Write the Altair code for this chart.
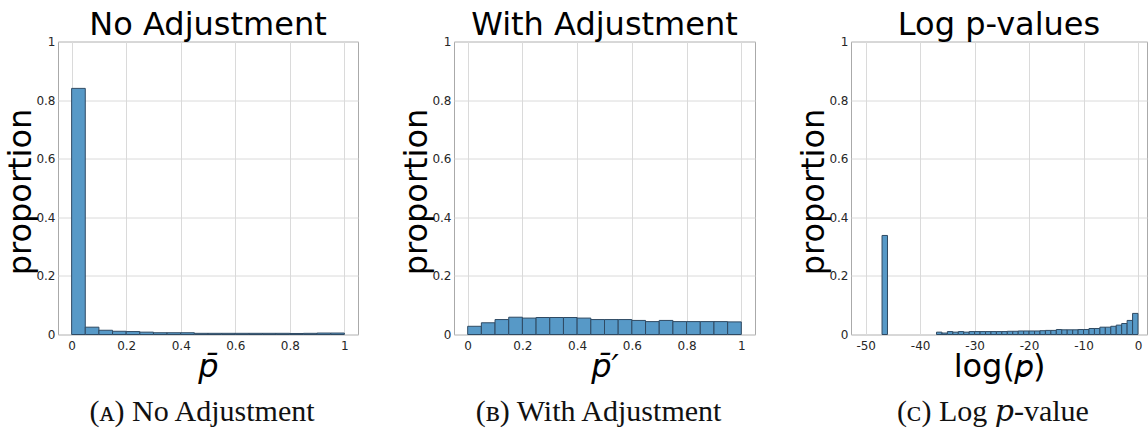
import altair as alt
import pandas as pd

# Histogram bin edges and proportions for each panel
raw_lo = [0.00, 0.05, 0.10, 0.15, 0.20, 0.25, 0.30, 0.35, 0.40, 0.45,
          0.50, 0.55, 0.60, 0.65, 0.70, 0.75, 0.80, 0.85, 0.90, 0.95]
raw_prop = [0.840, 0.025, 0.0145, 0.011, 0.010, 0.008, 0.006, 0.006, 0.006, 0.004,
            0.004, 0.004, 0.004, 0.004, 0.004, 0.004, 0.0035, 0.004, 0.005, 0.005]

adj_lo = raw_lo
adj_prop = [0.028, 0.040, 0.051, 0.059, 0.056, 0.058, 0.058, 0.058, 0.056, 0.051,
            0.051, 0.051, 0.048, 0.044, 0.048, 0.044, 0.044, 0.044, 0.044, 0.043]

log_lo = [-47, -37, -36, -35, -34, -33, -32, -31, -30, -29, -28, -27, -26, -25,
          -24, -23, -22, -21, -20, -19, -18, -17, -16, -15, -14, -13, -12, -11,
          -10, -9, -8, -7, -6, -5, -4, -3, -2, -1]
log_prop = [0.338, 0.008, 0.005, 0.010, 0.008, 0.010, 0.008, 0.010, 0.010, 0.010,
            0.010, 0.010, 0.010, 0.010, 0.011, 0.011, 0.012, 0.012, 0.012, 0.012,
            0.013, 0.014, 0.014, 0.017, 0.016, 0.016, 0.016, 0.017, 0.017, 0.0205,
            0.0205, 0.025, 0.025, 0.028, 0.032, 0.0375, 0.048, 0.072]

unit_ticks = [0, 0.2, 0.4, 0.6, 0.8, 1]
log_ticks = [-50, -40, -30, -20, -10, 0]
y_ticks = [0, 0.2, 0.4, 0.6, 0.8, 1]

FILL = "#5799c7"
EDGE = "#2f4a63"
GRID = "#dadada"
FRAME = "#aaaaaa"
SANS = "DejaVu Sans"
SERIF = "Liberation Serif, DejaVu Serif"
H = 293


def panel(lo, prop, width_bin, domain, ticks, xtitle, title, caption, w,
          title_style="normal"):
    df = pd.DataFrame({"lo": lo, "prop": prop})
    df["hi"] = df["lo"] + width_bin

    bars = alt.Chart(df).mark_rect(
        color=FILL, stroke=EDGE, strokeWidth=1, opacity=1
    ).encode(
        x=alt.X(
            "lo:Q",
            scale=alt.Scale(domain=domain, nice=False, zero=False),
            axis=alt.Axis(
                values=ticks, labelExpr="datum.value + ''", grid=True,
                gridColor=GRID, gridWidth=1, tickSize=0, domain=False,
                labelFont=SANS, labelFontSize=12, labelColor="#262626",
                labelPadding=6, labelFlush=False, labelOverlap=False,
                title=xtitle, titleFont=SANS, titleFontSize=32,
                titleFontWeight="normal", titleFontStyle=title_style,
                titleColor="black", titleX=w / 2, titleY=42,
                titleBaseline="alphabetic", titleAlign="center",
            ),
        ),
        x2="hi:Q",
        y=alt.Y(
            "prop:Q",
            scale=alt.Scale(domain=[0, 1], nice=False, padding=0),
            axis=alt.Axis(
                values=y_ticks, labelExpr="datum.value + ''", grid=True,
                gridColor=GRID, gridWidth=1, tickSize=0, domain=False,
                labelFont=SANS, labelFontSize=12, labelColor="#262626",
                labelPadding=3, labelFlush=False, labelOverlap=False,
                title="proportion", titleFont=SANS, titleFontSize=32,
                titleFontWeight="normal", titleColor="black",
                titleX=-28, titleY=150, titleAngle=270,
                titleBaseline="alphabetic", titleAlign="center",
            ),
        ),
        y2=alt.datum(0),
    )

    head = alt.Chart(pd.DataFrame({"t": [title]})).mark_text(
        font=SANS, fontSize=32, baseline="alphabetic", align="center",
        color="black"
    ).encode(text="t:N", x=alt.value(w / 2), y=alt.value(-7))

    foot = alt.Chart(pd.DataFrame({"t": [caption]})).mark_text(
        font=SERIF, fontSize=30, baseline="alphabetic", align="center",
        color="#111111"
    ).encode(text="t:N", x=alt.value(w / 2 - 6), y=alt.value(379))

    return alt.layer(bars, head, foot).properties(width=w, height=H)


p1 = panel(raw_lo, raw_prop, 0.05, [-0.05, 1.05], unit_ticks, "p\u0304",
           "No Adjustment", "(\u1d00) No Adjustment", 300, "italic")
p2 = panel(adj_lo, adj_prop, 0.05, [-0.05, 1.05], unit_ticks, "p\u0304\u2032",
           "With Adjustment", "(\u0299) With Adjustment", 301, "italic")
p3 = panel(log_lo, log_prop, 1, [-52.7, 1.65], log_ticks, "log(\U0001d45d)",
           "Log p-values", "(\u1d04) Log \U0001d45d-value", 296)

chart = alt.hconcat(p1, p2, p3, spacing=96, bounds="flush").properties(
    padding={"left": 3, "top": 7.5, "right": 0, "bottom": 0},
    autosize=alt.AutoSizeParams(type="pad"),
    background="white",
).configure_view(stroke=FRAME, strokeWidth=1)

chart.save("out.html", embed_options={"renderer": "svg", "actions": False})
